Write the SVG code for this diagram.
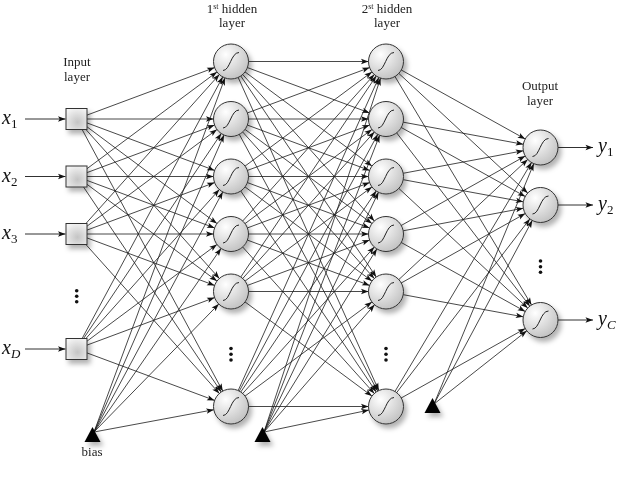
<svg xmlns="http://www.w3.org/2000/svg" xmlns:xlink="http://www.w3.org/1999/xlink" width="619" height="482" viewBox="0 0 619 482">
<style>
.c line{stroke:#1a1a1a;stroke-width:0.8;fill:none;marker-end:url(#ah)}
.io{stroke:#1a1a1a;stroke-width:0.9;fill:none;marker-end:url(#a2)}
.lbl{font-family:"Liberation Serif","Times New Roman",serif;font-size:13px;fill:#222;text-anchor:middle}
.var{font-family:"Liberation Serif","Times New Roman",serif;font-style:italic;font-size:20px;fill:#111}
.sub{font-size:13px}
.dot{fill:#111}
</style>
<defs>
<radialGradient id="gc" cx="0.35" cy="0.3" r="0.8">
<stop offset="0" stop-color="#ffffff"/>
<stop offset="1" stop-color="#bdbdbd"/>
</radialGradient>
<radialGradient id="gs" cx="0.55" cy="0.65" r="0.7">
<stop offset="0" stop-color="#c4c4c4"/>
<stop offset="1" stop-color="#f4f4f4"/>
</radialGradient>
<filter id="sh" x="-40%" y="-40%" width="190%" height="190%">
<feDropShadow dx="3" dy="4" stdDeviation="2.5" flood-color="#000" flood-opacity="0.3"/>
</filter>
<marker id="ah" markerUnits="userSpaceOnUse" viewBox="-27 -4 28 8" refX="0" refY="0" markerWidth="28" markerHeight="8" orient="auto">
<path d="M-17.5,0 L-25,-2.7 L-23.3,0 L-25,2.7 z" fill="#111"/>
</marker>
<marker id="a2" markerUnits="userSpaceOnUse" viewBox="-9 -4 10 8" refX="0" refY="0" markerWidth="10" markerHeight="8" orient="auto">
<path d="M0,0 L-7.5,-2.7 L-5.8,0 L-7.5,2.7 z" fill="#111"/>
</marker>
<g id="nd">
<circle r="17.5" fill="url(#gc)" stroke="#333" stroke-width="1"/>
<path d="M-8,9 C-1,9 0,-9 8,-9" fill="none" stroke="#222" stroke-width="1"/>
</g>
<rect id="sq" x="-10.5" y="-10.5" width="21" height="21" fill="url(#gs)" stroke="#333" stroke-width="1"/>
<path id="tri" d="M0,-5 L8,10 L-8,10 z" fill="#000"/>
</defs>
<rect width="619" height="482" fill="#fff"/>

<g id="connectors" class="c">
<line x1="76.5" y1="119" x2="231" y2="61.5"/><line x1="76.5" y1="119" x2="231" y2="119"/><line x1="76.5" y1="119" x2="231" y2="176.5"/><line x1="76.5" y1="119" x2="231" y2="234"/><line x1="76.5" y1="119" x2="231" y2="291.5"/><line x1="76.5" y1="119" x2="231" y2="406.5"/>
<line x1="76.5" y1="176.5" x2="231" y2="61.5"/><line x1="76.5" y1="176.5" x2="231" y2="119"/><line x1="76.5" y1="176.5" x2="231" y2="176.5"/><line x1="76.5" y1="176.5" x2="231" y2="234"/><line x1="76.5" y1="176.5" x2="231" y2="291.5"/><line x1="76.5" y1="176.5" x2="231" y2="406.5"/>
<line x1="76.5" y1="234" x2="231" y2="61.5"/><line x1="76.5" y1="234" x2="231" y2="119"/><line x1="76.5" y1="234" x2="231" y2="176.5"/><line x1="76.5" y1="234" x2="231" y2="234"/><line x1="76.5" y1="234" x2="231" y2="291.5"/><line x1="76.5" y1="234" x2="231" y2="406.5"/>
<line x1="76.5" y1="349" x2="231" y2="61.5"/><line x1="76.5" y1="349" x2="231" y2="119"/><line x1="76.5" y1="349" x2="231" y2="176.5"/><line x1="76.5" y1="349" x2="231" y2="234"/><line x1="76.5" y1="349" x2="231" y2="291.5"/><line x1="76.5" y1="349" x2="231" y2="406.5"/>
<line x1="94" y1="432" x2="231" y2="61.5"/><line x1="94" y1="432" x2="231" y2="119"/><line x1="94" y1="432" x2="231" y2="176.5"/><line x1="94" y1="432" x2="231" y2="234"/><line x1="94" y1="432" x2="231" y2="291.5"/><line x1="94" y1="432" x2="231" y2="406.5"/>
<line x1="231" y1="61.5" x2="386" y2="61.5"/><line x1="231" y1="61.5" x2="386" y2="119"/><line x1="231" y1="61.5" x2="386" y2="176.5"/><line x1="231" y1="61.5" x2="386" y2="234"/><line x1="231" y1="61.5" x2="386" y2="291.5"/><line x1="231" y1="61.5" x2="386" y2="406.5"/>
<line x1="231" y1="119" x2="386" y2="61.5"/><line x1="231" y1="119" x2="386" y2="119"/><line x1="231" y1="119" x2="386" y2="176.5"/><line x1="231" y1="119" x2="386" y2="234"/><line x1="231" y1="119" x2="386" y2="291.5"/><line x1="231" y1="119" x2="386" y2="406.5"/>
<line x1="231" y1="176.5" x2="386" y2="61.5"/><line x1="231" y1="176.5" x2="386" y2="119"/><line x1="231" y1="176.5" x2="386" y2="176.5"/><line x1="231" y1="176.5" x2="386" y2="234"/><line x1="231" y1="176.5" x2="386" y2="291.5"/><line x1="231" y1="176.5" x2="386" y2="406.5"/>
<line x1="231" y1="234" x2="386" y2="61.5"/><line x1="231" y1="234" x2="386" y2="119"/><line x1="231" y1="234" x2="386" y2="176.5"/><line x1="231" y1="234" x2="386" y2="234"/><line x1="231" y1="234" x2="386" y2="291.5"/><line x1="231" y1="234" x2="386" y2="406.5"/>
<line x1="231" y1="291.5" x2="386" y2="61.5"/><line x1="231" y1="291.5" x2="386" y2="119"/><line x1="231" y1="291.5" x2="386" y2="176.5"/><line x1="231" y1="291.5" x2="386" y2="234"/><line x1="231" y1="291.5" x2="386" y2="291.5"/><line x1="231" y1="291.5" x2="386" y2="406.5"/>
<line x1="231" y1="406.5" x2="386" y2="61.5"/><line x1="231" y1="406.5" x2="386" y2="119"/><line x1="231" y1="406.5" x2="386" y2="176.5"/><line x1="231" y1="406.5" x2="386" y2="234"/><line x1="231" y1="406.5" x2="386" y2="291.5"/><line x1="231" y1="406.5" x2="386" y2="406.5"/>
<line x1="264" y1="432" x2="386" y2="61.5"/><line x1="264" y1="432" x2="386" y2="119"/><line x1="264" y1="432" x2="386" y2="176.5"/><line x1="264" y1="432" x2="386" y2="234"/><line x1="264" y1="432" x2="386" y2="291.5"/><line x1="264" y1="432" x2="386" y2="406.5"/>
<line x1="386" y1="61.5" x2="540.5" y2="147.5"/><line x1="386" y1="61.5" x2="540.5" y2="205"/><line x1="386" y1="61.5" x2="540.5" y2="320"/>
<line x1="386" y1="119" x2="540.5" y2="147.5"/><line x1="386" y1="119" x2="540.5" y2="205"/><line x1="386" y1="119" x2="540.5" y2="320"/>
<line x1="386" y1="176.5" x2="540.5" y2="147.5"/><line x1="386" y1="176.5" x2="540.5" y2="205"/><line x1="386" y1="176.5" x2="540.5" y2="320"/>
<line x1="386" y1="234" x2="540.5" y2="147.5"/><line x1="386" y1="234" x2="540.5" y2="205"/><line x1="386" y1="234" x2="540.5" y2="320"/>
<line x1="386" y1="291.5" x2="540.5" y2="147.5"/><line x1="386" y1="291.5" x2="540.5" y2="205"/><line x1="386" y1="291.5" x2="540.5" y2="320"/>
<line x1="386" y1="406.5" x2="540.5" y2="147.5"/><line x1="386" y1="406.5" x2="540.5" y2="205"/><line x1="386" y1="406.5" x2="540.5" y2="320"/>
<line x1="434" y1="404" x2="540.5" y2="147.5"/><line x1="434" y1="404" x2="540.5" y2="205"/><line x1="434" y1="404" x2="540.5" y2="320"/>
</g>

<g id="io-arrows">
<path class="io" d="M25,119 L65.5,119"/>
<path class="io" d="M25,176.5 L65.5,176.5"/>
<path class="io" d="M25,234 L65.5,234"/>
<path class="io" d="M25,349 L65.5,349"/>
<path class="io" d="M558,147.5 L593,147.5"/>
<path class="io" d="M558,205 L593,205"/>
<path class="io" d="M558,320 L593,320"/>
</g>

<g id="input-nodes" filter="url(#sh)">
<g id="in1"><use xlink:href="#sq" x="76.5" y="119"/></g>
<g id="in2"><use xlink:href="#sq" x="76.5" y="176.5"/></g>
<g id="in3"><use xlink:href="#sq" x="76.5" y="234"/></g>
<g id="inD"><use xlink:href="#sq" x="76.5" y="349"/></g>
</g>
<g id="hidden1" filter="url(#sh)">
<g id="h1_1"><use xlink:href="#nd" x="231" y="61.5"/></g>
<g id="h1_2"><use xlink:href="#nd" x="231" y="119"/></g>
<g id="h1_3"><use xlink:href="#nd" x="231" y="176.5"/></g>
<g id="h1_4"><use xlink:href="#nd" x="231" y="234"/></g>
<g id="h1_5"><use xlink:href="#nd" x="231" y="291.5"/></g>
<g id="h1_6"><use xlink:href="#nd" x="231" y="406.5"/></g>
</g>
<g id="hidden2" filter="url(#sh)">
<g id="h2_1"><use xlink:href="#nd" x="386" y="61.5"/></g>
<g id="h2_2"><use xlink:href="#nd" x="386" y="119"/></g>
<g id="h2_3"><use xlink:href="#nd" x="386" y="176.5"/></g>
<g id="h2_4"><use xlink:href="#nd" x="386" y="234"/></g>
<g id="h2_5"><use xlink:href="#nd" x="386" y="291.5"/></g>
<g id="h2_6"><use xlink:href="#nd" x="386" y="406.5"/></g>
</g>
<g id="outputs" filter="url(#sh)">
<g id="o1"><use xlink:href="#nd" x="540.5" y="147.5"/></g>
<g id="o2"><use xlink:href="#nd" x="540.5" y="205"/></g>
<g id="oC"><use xlink:href="#nd" x="540.5" y="320"/></g>
</g>
<g id="biases" filter="url(#sh)">
<g id="bias1"><use xlink:href="#tri" x="92.5" y="432"/></g>
<g id="bias2"><use xlink:href="#tri" x="262.5" y="432"/></g>
<g id="bias3"><use xlink:href="#tri" x="432.5" y="403"/></g>
</g>

<g id="dots">
<circle class="dot" cx="76.7" cy="290.7" r="1.8"/><circle class="dot" cx="76.7" cy="296.2" r="1.8"/><circle class="dot" cx="76.7" cy="301.7" r="1.8"/>
<circle class="dot" cx="231" cy="348.5" r="1.8"/><circle class="dot" cx="231" cy="354.3" r="1.8"/><circle class="dot" cx="231" cy="360" r="1.8"/>
<circle class="dot" cx="386" cy="348.5" r="1.8"/><circle class="dot" cx="386" cy="354.3" r="1.8"/><circle class="dot" cx="386" cy="360" r="1.8"/>
<circle class="dot" cx="540.5" cy="261" r="1.8"/><circle class="dot" cx="540.5" cy="266.7" r="1.8"/><circle class="dot" cx="540.5" cy="272.3" r="1.8"/>
</g>

<g id="labels">
<text class="lbl" x="77" y="66">Input</text>
<text class="lbl" x="77" y="81">layer</text>
<text class="lbl" x="232" y="12.5">1<tspan font-size="8" dy="-3.5">st</tspan><tspan dy="3.5"> hidden</tspan></text>
<text class="lbl" x="232" y="26.5">layer</text>
<text class="lbl" x="387" y="12.5">2<tspan font-size="8" dy="-3.5">st</tspan><tspan dy="3.5"> hidden</tspan></text>
<text class="lbl" x="387" y="26.5">layer</text>
<text class="lbl" x="540" y="89.5">Output</text>
<text class="lbl" x="540" y="105">layer</text>
<text class="lbl" x="92" y="456">bias</text>
<text class="var" x="2" y="124">x<tspan class="sub" font-style="normal" dy="4">1</tspan></text>
<text class="var" x="2" y="181.5">x<tspan class="sub" font-style="normal" dy="4">2</tspan></text>
<text class="var" x="2" y="239">x<tspan class="sub" font-style="normal" dy="4">3</tspan></text>
<text class="var" x="2" y="354">x<tspan class="sub" dy="4">D</tspan></text>
<text class="var" x="598" y="152">y<tspan class="sub" font-style="normal" dy="4">1</tspan></text>
<text class="var" x="598" y="209.5">y<tspan class="sub" font-style="normal" dy="4">2</tspan></text>
<text class="var" x="598" y="324.5">y<tspan class="sub" dy="4">C</tspan></text>
</g>
</svg>
